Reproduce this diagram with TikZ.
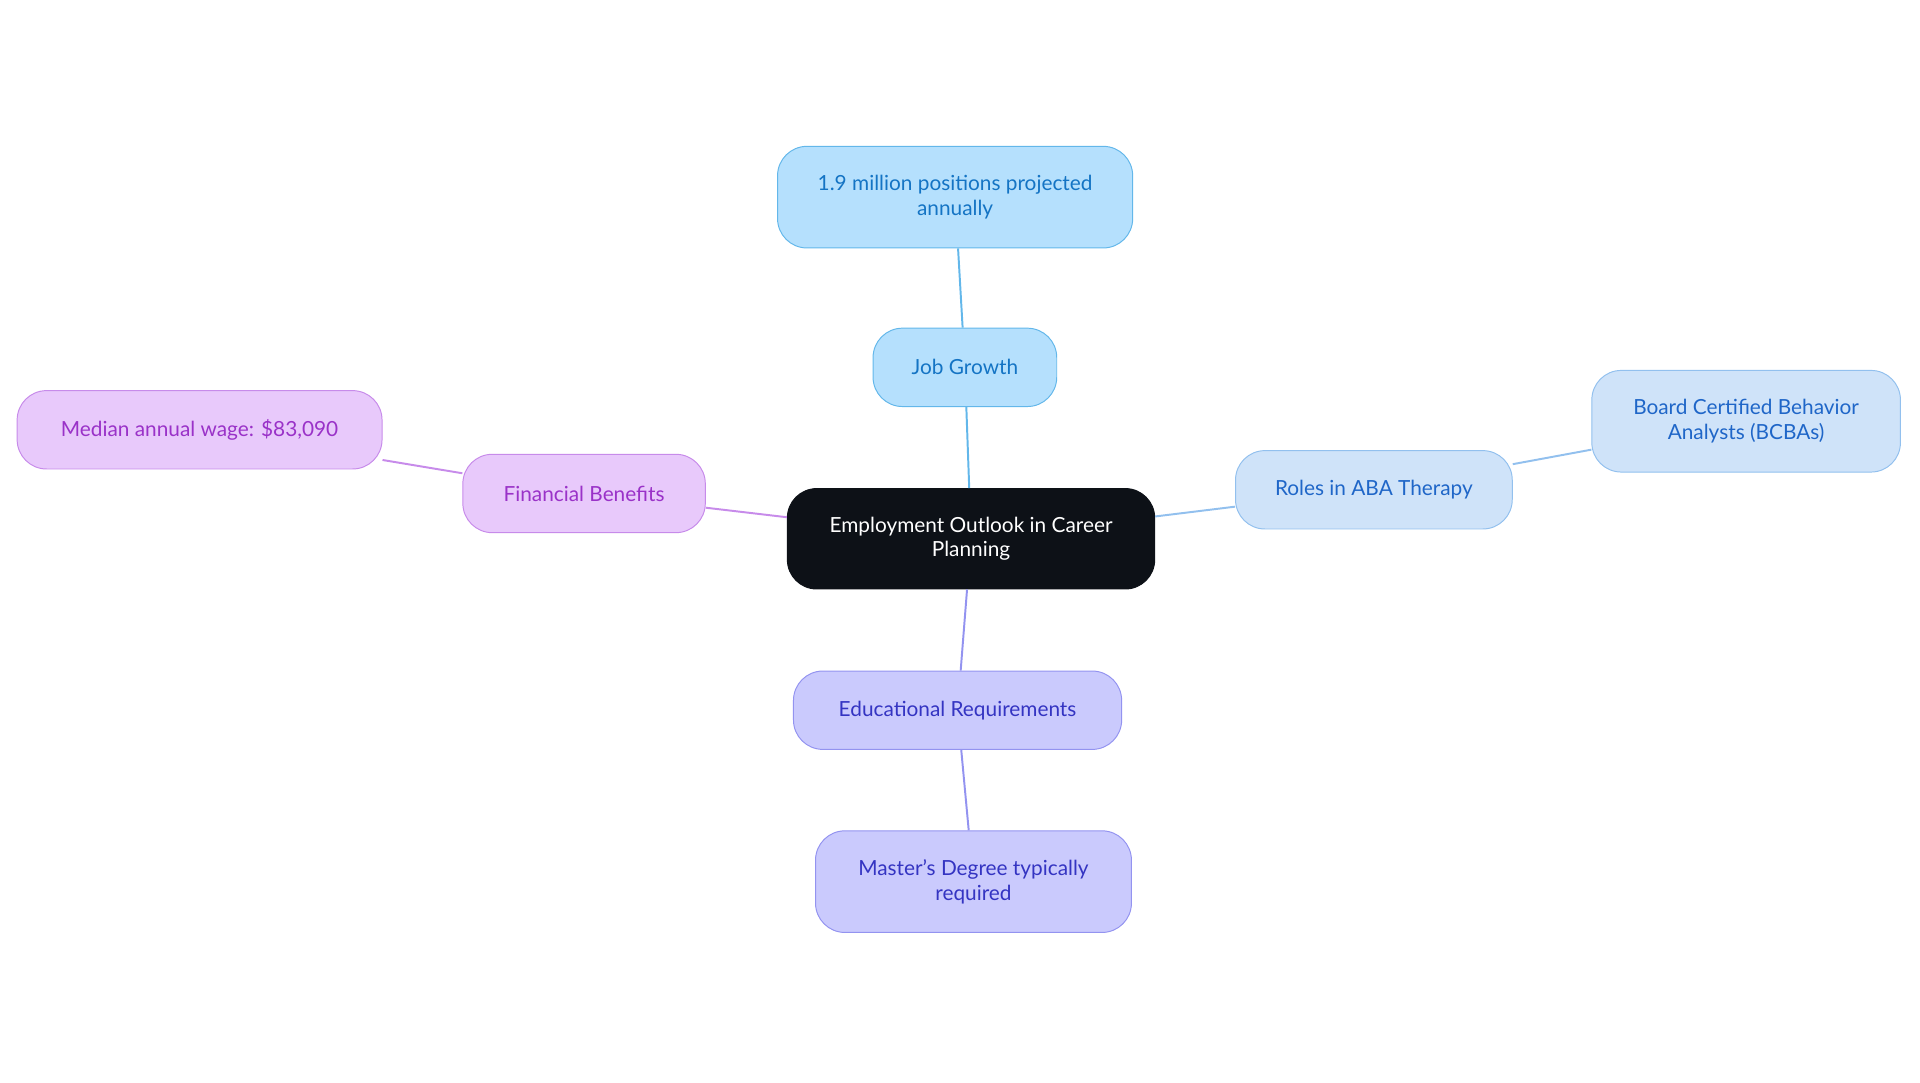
\documentclass[tikz,border=0pt]{standalone}
\usepackage{fontspec}
\setmainfont{Lato}
\definecolor{cfill}{HTML}{0D1117}
\definecolor{bfill}{HTML}{B5E0FD}\definecolor{bdraw}{HTML}{63B7EA}\definecolor{btext}{HTML}{1474C4}
\definecolor{rfill}{HTML}{CFE3F9}\definecolor{rdraw}{HTML}{92C0EE}\definecolor{rtext}{HTML}{1F66C8}
\definecolor{pfill}{HTML}{E8C9FB}\definecolor{pdraw}{HTML}{C78BEA}\definecolor{ptext}{HTML}{9A32C8}
\definecolor{ifill}{HTML}{CACAFD}\definecolor{idraw}{HTML}{9393F0}\definecolor{itext}{HTML}{3434C2}
\begin{document}
\begin{tikzpicture}[x=1pt,y=-1pt,
 box/.style={rounded corners=24pt,draw,line width=0.8pt,align=center,font=\fontsize{17}{20}\selectfont,inner sep=0pt},
 blue/.style={box,fill=bfill,draw=bdraw,text=btext},
 rol/.style={box,fill=rfill,draw=rdraw,text=rtext},
 pur/.style={box,fill=pfill,draw=pdraw,text=ptext},
 ind/.style={box,fill=ifill,draw=idraw,text=itext},
 ln/.style={line width=1.6pt}]
\useasboundingbox (0,0) rectangle (1568,884);
\node[box,fill=cfill,draw=cfill,text=white,minimum width=300pt,minimum height=82pt] (c) at (793,440) {Employment Outlook in Career\\Planning};
\node[blue,minimum width=150pt,minimum height=64pt] (jg) at (788,300) {Job Growth};
\node[blue,minimum width=290pt,minimum height=83pt] (mil) at (780,161) {1.9 million positions projected\\annually};
\node[rol,minimum width=226pt,minimum height=64pt] (aba) at (1122,400) {Roles in ABA Therapy};
\node[rol,minimum width=252pt,minimum height=83pt] (bc) at (1426,344) {Board Certified Behavior\\Analysts (BCBAs)};
\node[pur,minimum width=198pt,minimum height=64pt] (fb) at (477,403) {Financial Benefits};
\node[pur,minimum width=298pt,minimum height=64pt] (med) at (163,351) {Median annual wage: \$83,090};
\node[ind,minimum width=268pt,minimum height=64pt] (ed) at (782,580) {Educational Requirements};
\node[ind,minimum width=258pt,minimum height=83pt] (ms) at (795,720) {Master's Degree typically\\required};
\begin{scope}[on background layer/.try]
\end{scope}
\draw[ln,draw=bdraw] (c) -- (jg); \draw[ln,draw=bdraw] (jg) -- (mil);
\draw[ln,draw=rdraw] (c) -- (aba); \draw[ln,draw=rdraw] (aba) -- (bc);
\draw[ln,draw=pdraw] (c) -- (fb); \draw[ln,draw=pdraw] (fb) -- (med);
\draw[ln,draw=idraw] (c) -- (ed); \draw[ln,draw=idraw] (ed) -- (ms);
\end{tikzpicture}
\end{document}
